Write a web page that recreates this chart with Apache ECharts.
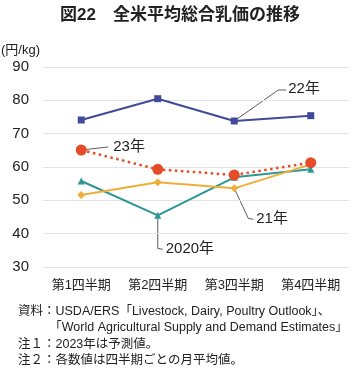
<!DOCTYPE html>
<html><head><meta charset="utf-8">
<script src="https://cdn.jsdelivr.net/npm/echarts@6/dist/echarts.min.js"></script>
<style>html,body{margin:0;padding:0;background:#fff}#c{width:360px;height:372px}</style>
</head><body><div id="c"></div>
<script>
const categories = ['第1四半期','第2四半期','第3四半期','第4四半期'];
const y2020 = [55.8, 45.5, 56.9, 59.3];
const y2021 = [51.6, 55.4, 53.6, 60.8];
const y2022 = [74.1, 80.5, 73.8, 75.4];
const y2023 = [65.1, 59.3, 57.6, 61.3];
const yTicks = [30, 40, 50, 60, 70, 80, 90];

const F = '"Liberation Sans", "Noto Sans CJK JP", sans-serif';
const chart = echarts.init(document.getElementById('c'));
chart.setOption({
  animation: false,
  backgroundColor: '#fff',
  title: {
    text: '図22　全米平均総合乳価の推移', left: 'center', top: 2,
    textStyle: { fontFamily: F, fontSize: 17, fontWeight: 'bold', color: '#222' }
  },
  grid: { left: 43, right: 11, top: 67, bottom: 105 },
  xAxis: {
    type: 'category', data: categories, boundaryGap: true,
    axisLine: { show: false }, axisTick: { show: false },
    axisLabel: { interval: 0, fontFamily: F, fontSize: 13, color: '#222', margin: 12 }
  },
  yAxis: {
    type: 'value', min: yTicks[0], max: yTicks[yTicks.length - 1], interval: 10,
    axisLine: { show: false }, axisTick: { show: false },
    axisLabel: { fontFamily: F, fontSize: 15, color: '#222', margin: 14 },
    splitLine: { lineStyle: { color: '#e4e4e4' } }
  },
  series: [
    { name: '2022', type: 'line', data: y2022, symbol: 'rect', symbolSize: 7,
      itemStyle: { color: '#3f4a98' }, lineStyle: { color: '#3f4a98', width: 2 } },
    { name: '2020', type: 'line', data: y2020, symbol: 'triangle', symbolSize: 7,
      itemStyle: { color: '#2b9793' }, lineStyle: { color: '#2b9793', width: 2 } },
    { name: '2021', type: 'line', data: y2021, symbol: 'diamond', symbolSize: 8,
      itemStyle: { color: '#eeae3a' }, lineStyle: { color: '#eeae3a', width: 2 } },
    { name: '2023', type: 'line', data: y2023, symbol: 'circle', symbolSize: 11,
      itemStyle: { color: '#e54b28' }, lineStyle: { color: '#e54b28', width: 2.5, type: [2.5, 3.5] }, z: 5 }
  ],
  graphic: [
    { type: 'text', left: 1, top: 44, style: { text: '(円/kg)', font: '13px ' + F, fill: '#222' } },
    { type: 'text', left: 18, top: 303, style: { text: '資料：USDA/ERS「Livestock, Dairy, Poultry Outlook」、\n　　　「World Agricultural Supply and Demand Estimates」\n注１：2023年は予測値。\n注２：各数値は四半期ごとの月平均値。', font: '12.5px ' + F, fill: '#222', lineHeight: 16.5 } }
  ]
});

function px(i, v) { return chart.convertToPixel({ gridIndex: 0 }, [i, v]); }
const g = [];
const lf = '15px ' + F;
let p = px(2, y2022[2]);
g.push({ type: 'polyline', shape: { points: [[p[0], p[1]], [p[0] + 44, p[1] - 31], [p[0] + 52, p[1] - 31]] }, style: { stroke: '#333', lineWidth: 0.8, fill: null } });
g.push({ type: 'text', x: p[0] + 54, y: p[1] - 40, style: { text: '22年', font: lf, fill: '#222' } });
p = px(0, y2023[0]);
g.push({ type: 'polyline', shape: { points: [[p[0], p[1]], [p[0] + 27, p[1] - 3]] }, style: { stroke: '#333', lineWidth: 0.8, fill: null } });
g.push({ type: 'text', x: p[0] + 32, y: p[1] - 11, style: { text: '23年', font: lf, fill: '#222' } });
p = px(2, y2021[2]);
g.push({ type: 'polyline', shape: { points: [[p[0], p[1]], [p[0] + 14, p[1] + 30], [p[0] + 19, p[1] + 31]] }, style: { stroke: '#333', lineWidth: 0.8, fill: null } });
g.push({ type: 'text', x: p[0] + 22, y: p[1] + 23, style: { text: '21年', font: lf, fill: '#222' } });
p = px(1, y2020[1]);
g.push({ type: 'polyline', shape: { points: [[p[0], p[1]], [p[0], p[1] + 33], [p[0] + 5, p[1] + 34]] }, style: { stroke: '#333', lineWidth: 0.8, fill: null } });
g.push({ type: 'text', x: p[0] + 8, y: p[1] + 26, style: { text: '2020年', font: lf, fill: '#222' } });
chart.setOption({ graphic: chart.getOption().graphic[0].elements.concat(g) });
</script></body></html>
